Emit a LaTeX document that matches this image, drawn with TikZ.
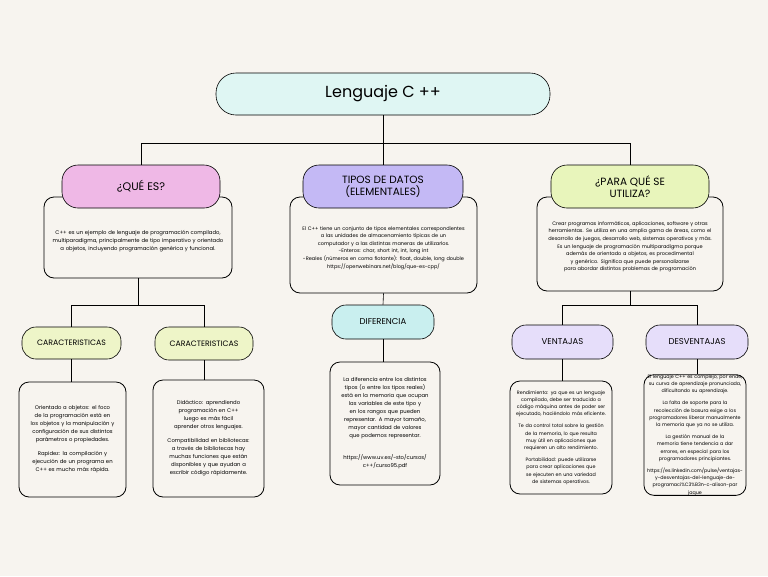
\documentclass[tikz,border=0pt]{standalone}
\usepackage{fontspec}
\setmainfont{Poppins}
\usetikzlibrary{positioning}
\hyphenpenalty=10000
\exhyphenpenalty=10000
\definecolor{bgcol}{HTML}{F7F4EF}
\definecolor{titlecol}{HTML}{DFF6F3}
\definecolor{pinkcol}{HTML}{EFB8E6}
\definecolor{lavcol}{HTML}{C4B9F5}
\definecolor{greencol}{HTML}{E8F5BB}
\definecolor{yelcol}{HTML}{EEF5C8}
\definecolor{cyancol}{HTML}{C9EFEF}
\definecolor{violcol}{HTML}{E6DEFA}
\tikzset{
  head/.style={draw, line width=0.6pt, rounded corners=16pt, align=center, inner sep=0pt},
  sub/.style={draw, line width=0.6pt, rounded corners=14pt, align=center, inner sep=0pt, font=\fontsize{8.5}{10}\selectfont},
  body/.style={draw, line width=0.8pt, rounded corners=10pt, fill=bgcol, align=center, inner sep=0pt, font=\fontsize{5.3}{8}\selectfont},
  link/.style={line width=0.6pt}
}
\begin{document}
\hyphenpenalty=10000
\begin{tikzpicture}[x=1pt,y=-1pt]
            % Background
            \fill[bgcol] (0,0) rectangle (768,576);
            \useasboundingbox (0,0) rectangle (768,576);

            % Title
            \node[head, fill=titlecol, minimum width=334pt, minimum height=42pt, rounded corners=20pt, font=\fontsize{16}{18}\selectfont] (title) at (383,94) {Lenguaje C ++};

            % Bodies of the three branches
            \node[body, text width=172pt, minimum width=188pt, minimum height=81pt] (queB) at (138,237.5) {\\[4pt]C++ es un ejemplo de lenguaje de programación compilado, multiparadigma, principalmente de tipo imperativo y orientado a objetos, incluyendo programación genérica y funcional.};
            \node[body, text width=178pt, minimum width=187pt, minimum height=96pt, font=\fontsize{5}{7.6}\selectfont] (tipB) at (383.5,245) {\\[2pt]El C++ tiene un conjunto de tipos elementales correspondientes a las unidades de almacenamiento típicas de un computador y a las distintas maneras de utilizarlos.\\ -Enteros: char, short int, int, long int\\ -Reales (números en coma flotante): float, double, long double\\ https://openwebinars.net/blog/que-es-cpp/};
            \node[body, text width=176pt, minimum width=186pt, minimum height=94pt, font=\fontsize{5}{7.6}\selectfont] (parB) at (630,244) {\\[2pt]Crear programas informáticos, aplicaciones, software y otras herramientas. Se utiliza en una amplia gama de áreas, como el desarrollo de juegos, desarrollo web, sistemas operativos y más.\\ Es un lenguaje de programación multiparadigma porque además de orientado a objetos, es procedimental y genérico. Significa que puede personalizarse para abordar distintos problemas de programación};

            % Headers
            \node[head, fill=pinkcol, minimum width=158pt, minimum height=43pt, font=\fontsize{11}{13}\selectfont] (que) at (141,186.5) {¿QUÉ ES?};
            \node[head, fill=lavcol, minimum width=160pt, minimum height=43pt, font=\fontsize{10.5}{12}\selectfont] (tip) at (383,186.5) {TIPOS DE DATOS\\(ELEMENTALES)};
            \node[head, fill=greencol, minimum width=158pt, minimum height=43pt, font=\fontsize{10.5}{12}\selectfont] (par) at (630,186.5) {¿PARA QUÉ SE\\UTILIZA?};

            % Second level
            \node[sub, fill=yelcol, minimum width=99pt, minimum height=32pt, font=\fontsize{7.8}{9}\selectfont] (carA) at (71.5,343) {CARACTERISTICAS};
            \node[sub, fill=yelcol, minimum width=98pt, minimum height=33pt, font=\fontsize{7.8}{9}\selectfont] (carB) at (204,343.5) {CARACTERISTICAS};
            \node[sub, fill=cyancol, minimum width=102pt, minimum height=34pt] (dif) at (383,322) {DIFERENCIA};
            \node[sub, fill=violcol, minimum width=101pt, minimum height=34pt] (ven) at (562.5,342) {VENTAJAS};
            \node[sub, fill=violcol, minimum width=102pt, minimum height=34pt] (des) at (697,342) {DESVENTAJAS};

            % Leaf bodies
            \node[body, text width=88pt, minimum width=107pt, minimum height=115pt] (carAB) at (72.5,439.5) {Orientado a objetos: el foco de la programación está en los objetos y la manipulación y configuración de sus distintos parámetros o propiedades.\\[6pt] Rapidez: la compilación y ejecución de un programa en C++ es mucho más rápida.};
            \node[body, text width=90pt, minimum width=111pt, minimum height=117pt] (carBB) at (208.5,438.5) {Didáctico: aprendiendo programación en C++ luego es más fácil aprender otros lenguajes.\\[6pt] Compatibilidad en bibliotecas: a través de bibliotecas hay muchas funciones que están disponibles y que ayudan a escribir código rápidamente.};
            \node[body, text width=90pt, minimum width=110pt, minimum height=123pt] (difB) at (385,423.5) {La diferencia entre los distintos tipos (o entre los tipos reales) está en la memoria que ocupan las variables de este tipo y en los rangos que pueden representar. A mayor tamaño, mayor cantidad de valores que podemos representar.\\[14pt] https://www.uv.es/\string~sto/cursos/ c++/curso95.pdf};
            \node[body, text width=92pt, minimum width=102pt, minimum height=113pt, font=\fontsize{4.8}{7.2}\selectfont] (venB) at (561,437.5) {Rendimiento: ya que es un lenguaje compilado, debe ser traducido a código máquina antes de poder ser ejecutado, haciéndolo más eficiente.\\[5pt] Te da control total sobre la gestión de la memoria, lo que resulta muy útil en aplicaciones que requieren un alto rendimiento.\\[5pt] Portabilidad: puede utilizarse para crear aplicaciones que se ejecuten en una variedad de sistemas operativos.};
            \node[body, text width=96pt, minimum width=102pt, minimum height=114pt, font=\fontsize{4.8}{7.2}\selectfont] (desB) at (695,435) {El lenguaje C++ es complejo, por ende, su curva de aprendizaje pronunciada, dificultando su aprendizaje.\\[5pt] La falta de soporte para la recolección de basura exige a los programadores liberar manualmente la memoria que ya no se utiliza.\\[5pt] La gestión manual de la memoria tiene tendencia a dar errores, en especial para los programadores principiantes.\\[5pt] https://es.linkedin.com/pulse/ventajas-\\y-desventajas-del-lenguaje-de-\\programaci\%C3\%B3n-c-alison-par\\jaque};

            % Connectors
            \coordinate (hub) at (383,143);
            \draw[link] (title.south) -- (hub);
            \draw[link] (hub) -| (que.north);
            \draw[link] (hub) -| (par.north);
            \draw[link] (hub) -- (tip.north);

            \coordinate (hubA) at (138,305);
            \draw[link] (queB.south) -- (hubA);
            \draw[link] (hubA) -| (carA.north);
            \draw[link] (hubA) -| (carB.north);
            \draw[link] (carA.south) -- (carA.south |- carAB.north);
            \draw[link] (carB.south) -- (carB.south |- carBB.north);

            \draw[link] (tipB.south) -- (dif.north);
            \draw[link] (dif.south) -- (dif.south |- difB.north);

            \coordinate (hubC) at (630,305);
            \draw[link] (parB.south) -- (hubC);
            \draw[link] (hubC) -| (ven.north);
            \draw[link] (hubC) -| (des.north);
            \draw[link] (ven.south) -- (ven.south |- venB.north);
            \draw[link] (des.south) -- (des.south |- desB.north);
\end{tikzpicture}
\end{document}
